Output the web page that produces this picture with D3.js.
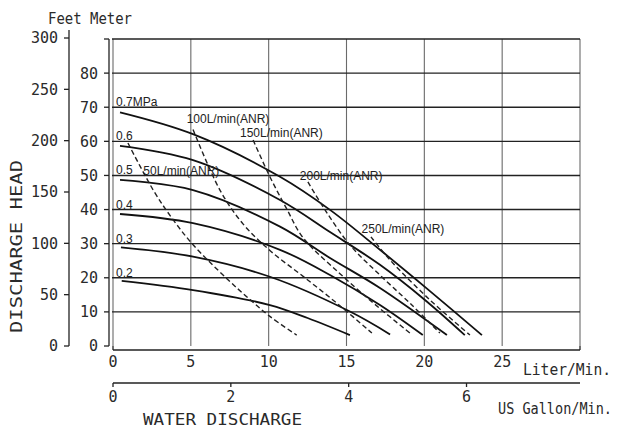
<!DOCTYPE html>
<html>
<head>
<meta charset="utf-8">
<title>Pump performance</title>
<script src="https://cdn.jsdelivr.net/npm/d3@7"></script>
<style>
  body { margin: 0; background: #fff; }
  .mono { font-family: 'DejaVu Sans Mono', monospace; fill: #2a2a2a; }
  .lbl { font-family: 'Liberation Sans', Arial, sans-serif; font-size: 12px; fill: #222; }
</style>
</head>
<body>
<div id="chart"></div>
<script>
// discharge head (m) vs water discharge (L/min), one solid line per air pressure
var pressures = ["0.7MPa", "0.6", "0.5", "0.4", "0.3", "0.2"];
var pressureLevels = [70, 60, 50, 40, 30, 20];
var p07 = [[0.45,68.5],[5.14,62.1],[10.73,49.6],[13.94,39.9],[17.15,28.2],[20.36,16.1],[23.7,3.2]];
var p06 = [[0.45,58.7],[5.14,54.5],[10.73,42.8],[13.94,33.4],[17.15,23.8],[20.04,13.5],[22.6,3.2]];
var p05 = [[0.45,48.7],[5.14,45.7],[10.73,35.0],[13.94,25.8],[17.15,17.0],[21.45,3.2]];
var p04 = [[0.45,38.7],[5.14,36.0],[10.73,28.2],[13.94,20.8],[17.15,12.0],[19.9,3.2]];
var p03 = [[0.51,28.9],[5.14,26.2],[10.08,20.3],[15.22,10.1],[17.8,3.4]];
var p02 = [[0.56,19.1],[5.14,16.4],[10.08,12.0],[12.5,8.2],[15.22,3.2]];

// air consumption lines (dashed)
var airLabels = ["50L/min(ANR)", "100L/min(ANR)", "150L/min(ANR)", "200L/min(ANR)", "250L/min(ANR)"];
var airLabelPos = [[1.95,50.2],[4.73,65.3],[8.16,61.4],[12.0,48.7],[15.97,33.2]];
var a50  = [[0.96,59.5],[2.6,45.6],[3.8,37.4],[5.16,29.6],[7.3,19.8],[8.8,13.6],[10.1,8.6],[11.8,3.2]];
var a100 = [[5.14,63.5],[6.87,45.7],[8.35,35.8],[10.08,28.0],[12.33,20.0],[14.58,11.8],[16.63,3.8]];
var a150 = [[9.0,60.4],[10.08,49.6],[11.16,40.2],[12.2,31.8],[14.58,21.2],[16.83,12.2],[19.07,3.8]];
var a200 = [[12.52,48.1],[13.62,39.9],[15.22,29.6],[17.15,20.8],[19.2,12.0],[21.0,3.8]];
var a250 = [[16.57,32.0],[17.8,25.2],[20.36,13.5],[22.93,3.2]];

var literTicks = [0, 5, 10, 15, 20, 25];
var gallonTicks = [0, 2, 4, 6];
var meterTicks = [0, 10, 20, 30, 40, 50, 60, 70, 80];
var feetTicks = [0, 50, 100, 150, 200, 250, 300];

var W = 630, H = 429;
var svg = d3.select("#chart").append("svg").attr("width", W).attr("height", H);

var x = d3.scaleLinear().domain([0, 30]).range([113, 580]);
var xg = d3.scaleLinear().domain([0, 30 / 3.785]).range([113, 580]);
var y = d3.scaleLinear().domain([0, 90]).range([346, 39]);
var yf = d3.scaleLinear().domain([0, 300]).range([346, 38]);

// grid
svg.selectAll(".vgrid").data(d3.range(0, 31, 5)).enter().append("line")
  .attr("x1", d => x(d)).attr("x2", d => x(d))
  .attr("y1", y(90)).attr("y2", y(0))
  .attr("stroke", "#6a6a6a").attr("stroke-width", 1.1);
svg.selectAll(".hgrid").data(d3.range(10, 91, 10)).enter().append("line")
  .attr("x1", x(0) - 1).attr("x2", x(30))
  .attr("y1", d => y(d)).attr("y2", d => y(d))
  .attr("stroke", "#222").attr("stroke-width", 1.4);

// meter axis
var gm = svg.append("g").attr("transform", "translate(109,0)");
gm.append("line").attr("y1", y(90)).attr("y2", y(0)).attr("stroke", "#222").attr("stroke-width", 1.3);
gm.selectAll("line.t").data(meterTicks.concat([90])).enter().append("line")
  .attr("x1", -5).attr("x2", 0).attr("y1", d => y(d)).attr("y2", d => y(d))
  .attr("stroke", "#222").attr("stroke-width", 1.3);
gm.selectAll("text").data(meterTicks).enter().append("text")
  .attr("class", "mono").attr("font-size", 15).attr("text-anchor", "end")
  .attr("x", -11).attr("y", d => y(d)).attr("dy", "0.36em").text(d => d);

// feet axis
var gf = svg.append("g").attr("transform", "translate(69,0)");
gf.append("line").attr("y1", 30).attr("y2", yf(0)).attr("stroke", "#222").attr("stroke-width", 1.3);
gf.selectAll("line.t").data(feetTicks).enter().append("line")
  .attr("x1", -5).attr("x2", 0).attr("y1", d => yf(d)).attr("y2", d => yf(d))
  .attr("stroke", "#222").attr("stroke-width", 1.3);
gf.selectAll("text").data(feetTicks).enter().append("text")
  .attr("class", "mono").attr("font-size", 15).attr("text-anchor", "end")
  .attr("x", -11).attr("y", d => yf(d)).attr("dy", "0.36em").text(d => d);

// liter axis
var gl = svg.append("g").attr("transform", "translate(0,350)");
gl.append("line").attr("x1", x(0)).attr("x2", x(30)).attr("stroke", "#222").attr("stroke-width", 1.5);
gl.selectAll("line.t").data([0, 30]).enter().append("line")
  .attr("x1", d => x(d)).attr("x2", d => x(d)).attr("y1", 0).attr("y2", -4)
  .attr("stroke", "#222").attr("stroke-width", 1.3);
gl.selectAll("text").data(literTicks).enter().append("text")
  .attr("class", "mono").attr("font-size", 15).attr("text-anchor", "middle")
  .attr("x", d => x(d)).attr("y", 17).text(d => d);

// gallon axis
var gg = svg.append("g").attr("transform", "translate(0,383)");
gg.append("line").attr("x1", x(0)).attr("x2", x(30)).attr("stroke", "#222").attr("stroke-width", 1.5);
gg.selectAll("line.t").data(gallonTicks).enter().append("line")
  .attr("x1", d => xg(d)).attr("x2", d => xg(d)).attr("y1", 0).attr("y2", 4)
  .attr("stroke", "#222").attr("stroke-width", 1.3);
gg.selectAll("text").data(gallonTicks).enter().append("text")
  .attr("class", "mono").attr("font-size", 15).attr("text-anchor", "middle")
  .attr("x", d => xg(d)).attr("y", 19).text(d => d);

// titles
function title(txt, px, py, fs, len) {
  return svg.append("text").attr("class", "mono").attr("font-size", fs)
    .attr("x", px).attr("y", py).attr("textLength", len)
    .attr("lengthAdjust", "spacingAndGlyphs").text(txt);
}
title("Feet Meter", 48, 24, 16, 84);
title("Liter/Min.", 523, 375, 15, 88);
title("US Gallon/Min.", 498, 414, 15, 114);
title("WATER DISCHARGE", 143, 425, 16, 159);
title("DISCHARGE HEAD", 0, 0, 16, 173).attr("transform", "translate(22,333) rotate(-90)");

// curves
var line = d3.line().x(d => x(d[0])).y(d => y(d[1])).curve(d3.curveCatmullRom.alpha(0.5));

svg.selectAll(".press").data([p07, p06, p05, p04, p03, p02]).enter().append("path")
  .attr("d", line).attr("fill", "none").attr("stroke", "#111").attr("stroke-width", 1.8);

svg.selectAll(".air").data([a50, a100, a150, a200, a250]).enter().append("path")
  .attr("d", line).attr("fill", "none").attr("stroke", "#222").attr("stroke-width", 1.4)
  .attr("stroke-dasharray", "5,3");

svg.selectAll(".plbl").data(pressures).enter().append("text")
  .attr("class", "lbl").attr("x", x(0.2)).attr("y", (d, i) => y(pressureLevels[i]) - 1).text(d => d);

svg.selectAll(".albl").data(airLabels).enter().append("text")
  .attr("class", "lbl").attr("x", (d, i) => x(airLabelPos[i][0]))
  .attr("y", (d, i) => y(airLabelPos[i][1])).text(d => d);
</script>
</body>
</html>
